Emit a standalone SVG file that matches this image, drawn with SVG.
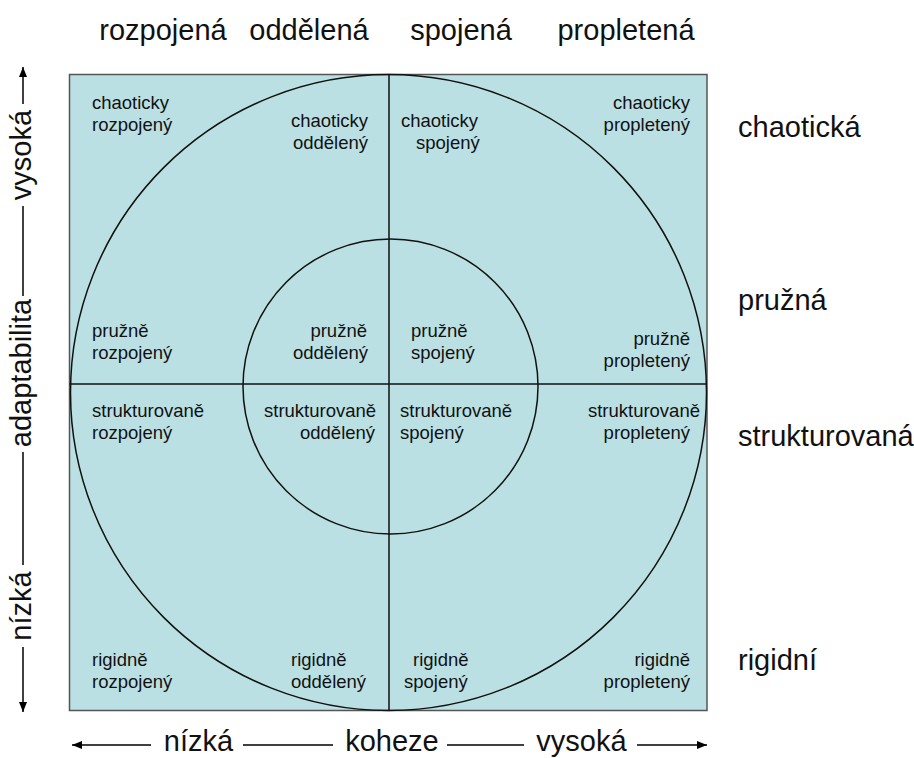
<svg xmlns="http://www.w3.org/2000/svg" width="914" height="758" viewBox="0 0 914 758">
<style>
  .cell { font-family: "Liberation Sans", Arial, sans-serif; font-size: 18.5px; fill: #111; }
  .axis { font-family: "Liberation Sans", Arial, sans-serif; font-size: 29px; fill: #111; }
  .ln { stroke: #111; stroke-width: 1.5; fill: none; }
  .ax { stroke: #000; stroke-width: 1.5; fill: none; }
  .e { text-anchor: end; }
  .m { text-anchor: middle; }
</style>
<defs>
  <marker id="arr" viewBox="0 0 10 8" refX="10" refY="4" markerWidth="10" markerHeight="8" markerUnits="userSpaceOnUse" orient="auto">
    <path d="M0,0 L10,4 L0,8 Z" fill="#000"/>
  </marker>
</defs>

<g id="grid">
  <rect x="69.5" y="74.5" width="637.5" height="636" fill="#BBE0E3" stroke="#555" stroke-width="1.5"/>
  <circle class="ln" cx="388.5" cy="392.5" r="318"/>
  <circle class="ln" cx="390.5" cy="386.5" r="147.5"/>
  <line class="ln" x1="389" y1="74.5" x2="389" y2="710.5"/>
  <line class="ln" x1="69.5" y1="384" x2="707" y2="384"/>
</g>

<g id="top-labels" class="axis">
  <text class="m" x="163" y="40">rozpojená</text>
  <text class="m" x="309" y="40">oddělená</text>
  <text class="m" x="461" y="40">spojená</text>
  <text class="m" x="626" y="40">propletená</text>
</g>

<g id="right-labels" class="axis">
  <text x="738" y="137">chaotická</text>
  <text x="738" y="310">pružná</text>
  <text x="738" y="446">strukturovaná</text>
  <text x="738" y="670">rigidní</text>
</g>

<g id="left-axis" class="axis">
  <text class="m" transform="translate(31,155) rotate(-90)">vysoká</text>
  <text class="m" transform="translate(31,373) rotate(-90)">adaptabilita</text>
  <text class="m" transform="translate(31,606) rotate(-90)">nízká</text>
</g>

<g id="bottom-axis" class="axis">
  <text class="m" x="198.5" y="751">nízká</text>
  <text class="m" x="392" y="751">koheze</text>
  <text class="m" x="581.5" y="751">vysoká</text>
</g>

<g id="connectors">
  <line class="ax" x1="23" y1="104" x2="23" y2="67" marker-end="url(#arr)"/>
  <line class="ax" x1="23" y1="206" x2="23" y2="296"/>
  <line class="ax" x1="23" y1="452" x2="23" y2="565"/>
  <line class="ax" x1="23" y1="647" x2="23" y2="712" marker-end="url(#arr)"/>
  <line class="ax" x1="151" y1="745" x2="72" y2="745" marker-end="url(#arr)"/>
  <line class="ax" x1="243" y1="745" x2="333" y2="745"/>
  <line class="ax" x1="447" y1="745" x2="524" y2="745"/>
  <line class="ax" x1="637" y1="745" x2="707" y2="745" marker-end="url(#arr)"/>
</g>

<g id="chaoticky-rozpojeny" class="cell">
  <text x="92" y="109">chaoticky</text>
  <text x="92" y="131">rozpojený</text>
</g>
<g id="chaoticky-oddeleny" class="cell">
  <text class="e" x="368" y="127">chaoticky</text>
  <text class="e" x="368" y="149">oddělený</text>
</g>
<g id="chaoticky-spojeny" class="cell">
  <text x="401" y="127">chaoticky</text>
  <text x="416" y="149">spojený</text>
</g>
<g id="chaoticky-propleteny" class="cell">
  <text class="e" x="690" y="109">chaoticky</text>
  <text class="e" x="690" y="131">propletený</text>
</g>

<g id="pruzne-rozpojeny" class="cell">
  <text x="92" y="337">pružně</text>
  <text x="92" y="359">rozpojený</text>
</g>
<g id="pruzne-oddeleny" class="cell">
  <text class="e" x="367" y="337">pružně</text>
  <text class="e" x="368" y="359">oddělený</text>
</g>
<g id="pruzne-spojeny" class="cell">
  <text x="411" y="337">pružně</text>
  <text x="411" y="359">spojený</text>
</g>
<g id="pruzne-propleteny" class="cell">
  <text class="e" x="690" y="345">pružně</text>
  <text class="e" x="690" y="367">propletený</text>
</g>

<g id="strukturovane-rozpojeny" class="cell">
  <text x="92" y="417">strukturovaně</text>
  <text x="92" y="439">rozpojený</text>
</g>
<g id="strukturovane-oddeleny" class="cell">
  <text x="264" y="417">strukturovaně</text>
  <text x="300" y="439">oddělený</text>
</g>
<g id="strukturovane-spojeny" class="cell">
  <text x="400" y="417">strukturovaně</text>
  <text x="400" y="439">spojený</text>
</g>
<g id="strukturovane-propleteny" class="cell">
  <text class="e" x="700" y="417">strukturovaně</text>
  <text class="e" x="690" y="439">propletený</text>
</g>

<g id="rigidne-rozpojeny" class="cell">
  <text x="92" y="666">rigidně</text>
  <text x="92" y="688">rozpojený</text>
</g>
<g id="rigidne-oddeleny" class="cell">
  <text x="291" y="666">rigidně</text>
  <text x="291" y="688">oddělený</text>
</g>
<g id="rigidne-spojeny" class="cell">
  <text x="413" y="666">rigidně</text>
  <text x="404" y="688">spojený</text>
</g>
<g id="rigidne-propleteny" class="cell">
  <text class="e" x="690" y="666">rigidně</text>
  <text class="e" x="690" y="688">propletený</text>
</g>
</svg>
